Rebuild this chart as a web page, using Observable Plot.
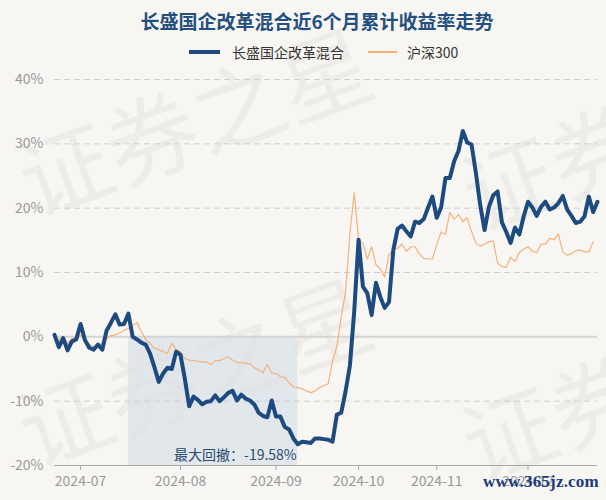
<!DOCTYPE html>
<html>
<head>
<meta charset="utf-8">
<script src="https://cdn.jsdelivr.net/npm/d3@7"></script>
<script src="https://cdn.jsdelivr.net/npm/@observablehq/plot@0.6"></script>
<style>
  html, body { margin: 0; padding: 0; }
  body { width: 606px; height: 500px; background: #f8f6f2; position: relative; overflow: hidden;
         font-family: "Noto Sans CJK SC", "Noto Sans", sans-serif; }
  #wm { position: absolute; left: 0; top: 0; width: 606px; height: 500px; z-index: 0; }
  #title { position: absolute; left: 28px; width: 578px; top: 10px; height: 22px; line-height: 22px;
           text-align: center; font-size: 19px; font-weight: bold; color: #24507f; z-index: 2; }
  .sw { position: absolute; z-index: 2; }
  .lt { position: absolute; top: 43px; height: 18px; line-height: 18px; font-size: 14px; color: #333; z-index: 2; white-space: nowrap; }
  #chart { position: absolute; left: 0; top: 60px; z-index: 1; }
  #site { position: absolute; left: 483px; top: 472px; font-family: "Liberation Serif", "DejaVu Serif", serif;
          font-weight: bold; font-size: 17px; color: #1b3d7c; z-index: 3; letter-spacing: 0.2px; }
</style>
</head>
<body>
<svg id="wm" width="606" height="500"></svg>
<div id="title"></div>
<div class="sw" style="left:189px; top:50px; width:31px; height:4px; background:#1e4b7f;"></div>
<div class="lt" id="l1" style="left:232px;"></div>
<div class="sw" style="left:368px; top:51px; width:29px; height:1.5px; background:#f2b27c;"></div>
<div class="lt" id="l2" style="left:407px;"></div>
<div id="chart"></div>
<div id="site">www.365jz.com</div>
<script>
// ---- data ----
const title = "长盛国企改革混合近6个月累计收益率走势";
const seriesNames = ["长盛国企改革混合", "沪深300"];
const fundReturn = [
  0.3, -1.6, -0.2, -2.1, -0.7, -0.4, 2.0, -0.5, -1.7, -2.0,
  -1.2, -2.0, 1.0, 2.2, 3.5, 1.9, 2.0, 3.6, 0.0, -0.4,
  -0.9, -1.2, -2.6, -4.7, -7.0, -5.7, -4.8, -5.0, -2.3, -2.8,
  -6.5, -10.8, -9.3, -9.8, -10.5, -10.1, -10.0, -9.1, -10.0, -9.4,
  -8.7, -8.4, -9.9, -9.0, -9.6, -9.9, -10.5, -11.8, -12.3, -12.5,
  -9.9, -12.4, -12.4, -14.0, -14.4, -15.8, -16.7, -16.3, -16.4, -16.5,
  -15.8, -15.8, -15.9, -16.0, -16.3, -12.1, -11.8, -8.5, -4.5, 4.0,
  15.1, 7.8, 6.8, 3.4, 8.4, 6.2, 4.5, 5.4, 13.5, 16.8,
  17.3, 16.4, 15.6, 17.9, 17.7, 18.3, 20.1, 21.8, 18.5, 20.1,
  24.7, 24.7, 27.3, 28.9, 32.0, 30.2, 29.9, 25.5, 20.5, 16.6,
  20.2, 22.0, 22.6, 17.8, 16.3, 14.6, 17.0, 15.9, 18.7, 21.0,
  20.1, 18.8, 20.2, 21.0, 19.8, 20.1, 20.8, 21.9, 19.8, 18.8,
  17.7, 17.9, 18.7, 21.8, 19.4, 21.0
];
const hs300Return = [
  0.2, -0.5, 0.0, -1.0, -0.3, -0.4, 0.3, -0.6, -1.2, -1.5,
  -1.5, -1.0, -0.3, 0.2, 0.3, 0.6, 1.0, 1.3, 1.8, 2.2,
  0.8, -0.4, -1.0, -1.8, -2.0, -2.3, -2.6, -1.0, -2.0, -2.3,
  -3.4, -3.6, -3.7, -3.8, -3.9, -3.9, -4.3, -3.7, -3.7, -3.4,
  -3.1, -3.6, -4.0, -4.0, -4.1, -4.2, -4.8, -5.1, -5.6, -4.3,
  -5.6, -5.7, -6.2, -6.3, -7.1, -7.8, -7.9, -8.1, -8.4, -8.7,
  -8.4, -7.9, -7.6, -7.3, -3.8, -1.5, 3.0, 7.0, 16.0, 22.4,
  15.1, 14.5, 12.1, 14.0, 11.2, 10.6, 9.3, 12.8, 13.5, 13.8,
  14.4, 13.3, 14.0, 14.0, 12.9, 12.2, 12.1, 12.1, 14.3, 16.3,
  15.9, 19.3, 18.3, 19.0, 17.9, 18.5, 16.4, 14.6, 14.1, 14.4,
  14.8, 14.9, 11.5, 10.9, 10.8, 12.4, 11.7, 13.1, 13.6, 14.0,
  13.3, 13.1, 14.4, 14.4, 15.3, 15.1, 16.0, 13.2, 12.7, 12.9,
  13.4, 13.5, 13.2, 13.2, 14.8
];
// month ticks: trading-day index of the first session of each month
const monthTickIndex = [6, 29, 51, 70, 88, 109];
const monthTickLabels = ["2024-07", "2024-08", "2024-09", "2024-10", "2024-11", "2024-12"];
const yTicks = [-20, -10, 0, 10, 20, 30, 40];
const drawdownLabel = "最大回撤：-19.58%";
const watermark = "证券之星";

// ---- build ----
document.getElementById("title").textContent = title;
document.getElementById("l1").textContent = seriesNames[0];
document.getElementById("l2").textContent = seriesNames[1];

const fund = fundReturn.map((v, i) => ({i, v}));
const hs = hs300Return.map((v, i) => ({i, v}));

// max drawdown: trough = global minimum, peak = last maximum before it
let trough = 0;
fundReturn.forEach((v, i) => { if (v < fundReturn[trough]) trough = i; });
let peak = 0;
for (let i = 0; i <= trough; i++) if (fundReturn[i] >= fundReturn[peak]) peak = i;

const tickLab = new Map(monthTickIndex.map((t, k) => [t, monthTickLabels[k]]));

const chart = Plot.plot({
  width: 606,
  height: 440,
  marginTop: 19,
  marginBottom: 35,
  marginLeft: 54,
  marginRight: 9,
  style: {background: "transparent", fontSize: "14px", fontFamily: "'Noto Sans CJK SC', 'Noto Sans', sans-serif", color: "#999"},
  x: {domain: [0, fundReturn.length - 1], label: null},
  y: {domain: [-20, 40], label: null},
  marks: [
    Plot.rect([{x1: peak, x2: trough}], {x1: "x1", x2: "x2", y1: -20, y2: 0, fill: "#dbe2ea", fillOpacity: 0.75}),
    Plot.ruleY(yTicks.filter(d => d !== 0 && d !== -20), {stroke: "#cfcfcf", strokeWidth: 1, strokeDasharray: "6,4"}),
    Plot.ruleY([0], {stroke: "#d4d4d4", strokeWidth: 2}),
    Plot.ruleY([-20], {stroke: "#a8a8a8", strokeWidth: 1}),
    Plot.axisY(yTicks, {tickSize: 0, tickPadding: 11, tickFormat: d => d + "%", fill: "#999", label: null}),
    Plot.axisX(monthTickIndex, {tickSize: 5, tickPadding: 6, stroke: "#a8a8a8", fill: "#999", tickFormat: d => tickLab.get(d), label: null}),
    Plot.line(hs, {x: "i", y: "v", stroke: "#f2b27c", strokeWidth: 1.2}),
    Plot.line(fund, {x: "i", y: "v", stroke: "#1e4b7f", strokeWidth: 4, strokeLinejoin: "round", strokeLinecap: "round"}),
    Plot.text([drawdownLabel], {x: trough, y: -20, text: d => d, textAnchor: "end", lineAnchor: "bottom", dx: -1, dy: -6, fill: "#2b4a70", fontSize: 14})
  ]
});
document.getElementById("chart").appendChild(chart);

// faint background watermark
const wm = d3.select("#wm");
[[34, 218, watermark], [34, 468, watermark], [478, 232, watermark.slice(0, 2)], [478, 482, watermark.slice(0, 2)]].forEach(([x, y, t]) => {
  wm.append("text").attr("x", x).attr("y", y)
    .attr("transform", `rotate(-20 ${x} ${y})`)
    .attr("font-size", 92).attr("font-family", "'Noto Sans CJK SC', sans-serif")
    .attr("fill", "rgba(0,0,0,0.04)").text(t);
});
</script>
</body>
</html>
